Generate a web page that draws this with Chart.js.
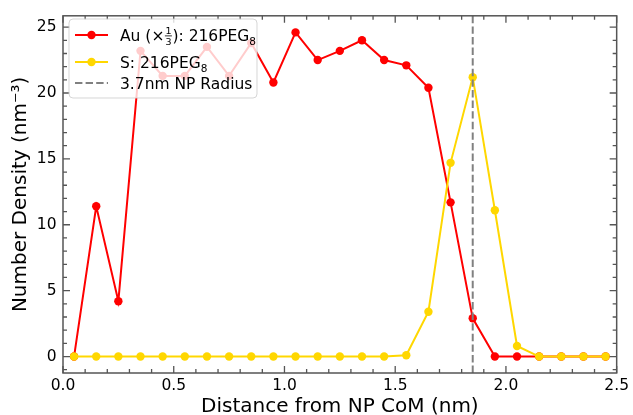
<!DOCTYPE html>
<html><head><meta charset="utf-8">
<script src="https://cdn.jsdelivr.net/npm/chart.js@4/dist/chart.umd.min.js"></script>
<style>html,body{margin:0;padding:0;background:#fff;}#wrap{width:633px;height:415px;}</style>
</head><body><div id="wrap"><canvas id="c" width="633" height="415"></canvas></div>
<script>
// ---- data ----
const distance = [0.05,0.15,0.25,0.35,0.45,0.55,0.65,0.75,0.85,0.95,1.05,1.15,1.25,1.35,1.45,1.55,1.65,1.75,1.85,1.95,2.05,2.15,2.25,2.35,2.45];
const auDensity = [0,11.4,4.2,23.2,21.3,21.3,23.5,21.3,23.8,20.8,24.6,22.5,23.2,24.0,22.5,22.1,20.4,11.7,2.9,0,0,0,0,0,0];
const sDensity  = [0,0,0,0,0,0,0,0,0,0,0,0,0,0,0,0.1,3.4,14.7,21.2,11.1,0.8,0,0,0,0];
const npRadius = 1.85;
const xTickValues = [0,0.5,1,1.5,2,2.5];
const yTickValues = [0,5,10,15,20,25];
const xLimits = [0,2.5];
const yLimits = [-1.25,25.86];
const auLabel = 'Au';
const sLabel = 'S: 216PEG';
const radiusLabel = '3.7nm NP Radius';
const xTitle = 'Distance from NP CoM (nm)';
const yTitle = 'Number Density (nm\u207B\u00B3)';

const FONT = "'DejaVu Sans'";
const RED = '#ff0000', GOLD = '#ffd700', GRAY = '#808080', SPINE = '#555555';
const DASH = [7.4, 3.2];

const ticksPlugin = {
  id: 'inTicks',
  afterDatasetsDraw(chart) {
    const {ctx, chartArea: a, scales: {x, y}} = chart;
    ctx.save();
    ctx.strokeStyle = SPINE; ctx.lineWidth = 1.3;
    ctx.beginPath();
    for (let i = 0; i <= 25; i++) {
      const v = i / 10, px = x.getPixelForValue(v), L = (i % 5 === 0) ? 7 : 4;
      ctx.moveTo(px, a.bottom); ctx.lineTo(px, a.bottom - L);
      ctx.moveTo(px, a.top); ctx.lineTo(px, a.top + L);
    }
    for (let v = -1; v <= 25; v++) {
      const py = y.getPixelForValue(v), L = (v % 5 === 0) ? 7 : 4;
      ctx.moveTo(a.left, py); ctx.lineTo(a.left + L, py);
      ctx.moveTo(a.right, py); ctx.lineTo(a.right - L, py);
    }
    ctx.stroke();
    ctx.lineWidth = 1.5;
    ctx.strokeRect(a.left, a.top, a.right - a.left, a.bottom - a.top);
    ctx.restore();
  }
};

const legendPlugin = {
  id: 'customLegend',
  afterDraw(chart) {
    const ctx = chart.ctx;
    ctx.save();
    const bx = 69, by = 19, bw = 188, bh = 79, r = 4;
    ctx.beginPath();
    ctx.moveTo(bx + r, by); ctx.lineTo(bx + bw - r, by); ctx.arcTo(bx + bw, by, bx + bw, by + r, r);
    ctx.lineTo(bx + bw, by + bh - r); ctx.arcTo(bx + bw, by + bh, bx + bw - r, by + bh, r);
    ctx.lineTo(bx + r, by + bh); ctx.arcTo(bx, by + bh, bx, by + bh - r, r);
    ctx.lineTo(bx, by + r); ctx.arcTo(bx, by, bx + r, by, r); ctx.closePath();
    ctx.fillStyle = 'rgba(255,255,255,0.8)'; ctx.fill();
    ctx.strokeStyle = 'rgba(204,204,204,0.8)'; ctx.lineWidth = 1; ctx.stroke();

    const x0 = 75, x1 = 108, xm = 91.5, tx = 120;
    const rows = [35, 62, 83];
    ctx.strokeStyle = RED; ctx.lineWidth = 2; ctx.setLineDash([]);
    ctx.beginPath(); ctx.moveTo(x0, rows[0]); ctx.lineTo(x1, rows[0]); ctx.stroke();
    ctx.fillStyle = RED; ctx.beginPath(); ctx.arc(xm, rows[0], 4.2, 0, Math.PI * 2); ctx.fill();
    ctx.strokeStyle = GOLD;
    ctx.beginPath(); ctx.moveTo(x0, rows[1]); ctx.lineTo(x1, rows[1]); ctx.stroke();
    ctx.fillStyle = GOLD; ctx.beginPath(); ctx.arc(xm, rows[1], 4.2, 0, Math.PI * 2); ctx.fill();
    ctx.strokeStyle = GRAY; ctx.setLineDash(DASH);
    ctx.beginPath(); ctx.moveTo(x0, rows[2]); ctx.lineTo(x1, rows[2]); ctx.stroke();
    ctx.setLineDash([]);

    ctx.fillStyle = '#000'; ctx.textBaseline = 'alphabetic'; ctx.textAlign = 'left';
    const big = "15.5px " + FONT, small = "9.5px " + FONT, sub = "10.5px " + FONT;
    const base0 = rows[0] + 6, base1 = rows[1] + 6, base2 = rows[2] + 6;
    let cx = tx;
    ctx.font = big;
    let s = auLabel + ' (\u00D7';
    ctx.fillText(s, cx, base0); cx += ctx.measureText(s).width + 1;
    ctx.font = small;
    const fw = ctx.measureText('3').width;
    ctx.fillText('1', cx, base0 - 7);
    ctx.fillText('3', cx, base0 + 4);
    ctx.fillRect(cx - 0.5, base0 - 5.5, fw + 1, 0.8);
    cx += fw + 1;
    ctx.font = big;
    s = '): 216PEG';
    ctx.fillText(s, cx, base0); cx += ctx.measureText(s).width;
    ctx.font = sub; ctx.fillText('8', cx, base0 + 4);
    cx = tx; ctx.font = big;
    ctx.fillText(sLabel, cx, base1); cx += ctx.measureText(sLabel).width;
    ctx.font = sub; ctx.fillText('8', cx, base1 + 4);
    ctx.font = big; ctx.fillText(radiusLabel, tx, base2);
    ctx.restore();
  }
};

new Chart(document.getElementById('c'), {
  type: 'line',
  data: {
    datasets: [
      { label: radiusLabel, data: [{x: npRadius, y: yLimits[0]}, {x: npRadius, y: yLimits[1]}],
        borderColor: GRAY, borderWidth: 2, borderDash: DASH, pointRadius: 0, order: 0 },
      { label: sLabel, data: distance.map((x, i) => ({x, y: sDensity[i]})),
        borderColor: GOLD, backgroundColor: GOLD, borderWidth: 2, pointRadius: 4.2,
        pointBorderWidth: 0, tension: 0, order: 1 },
      { label: auLabel, data: distance.map((x, i) => ({x, y: auDensity[i]})),
        borderColor: RED, backgroundColor: RED, borderWidth: 2, pointRadius: 4.2,
        pointBorderWidth: 0, tension: 0, order: 2 }
    ]
  },
  options: {
    responsive: false, animation: false,
    layout: { padding: { left: 0, right: 14, top: 13, bottom: 0 } },
    plugins: { legend: { display: false }, tooltip: { enabled: false } },
    scales: {
      x: {
        type: 'linear', position: 'bottom', min: xLimits[0], max: xLimits[1],
        grid: { display: false, drawTicks: false }, border: { display: false },
        afterBuildTicks: s => { s.ticks = xTickValues.map(v => ({value: v})); },
        afterFit: s => { s.height = 42; },
        ticks: { color: '#000', padding: 4, font: { family: FONT, size: 15.5 }, maxRotation: 0,
                 callback: v => Number(v).toFixed(1) },
        title: { display: true, text: xTitle, color: '#000', padding: 0,
                 font: { family: FONT, size: 20, lineHeight: 0.84 } }
      },
      y: {
        type: 'linear', min: yLimits[0], max: yLimits[1],
        grid: { display: false, drawTicks: false }, border: { display: false },
        afterBuildTicks: s => { s.ticks = yTickValues.map(v => ({value: v})); },
        afterFit: s => { s.width = 63; },
        ticks: { color: '#000', padding: 6.5, font: { family: FONT, size: 15.5 },
                 callback: v => String(v) },
        title: { display: true, text: yTitle, color: '#000', padding: { top: 9, bottom: 0 },
                 font: { family: FONT, size: 20 } }
      }
    }
  },
  plugins: [ticksPlugin, legendPlugin]
});
</script></body></html>
